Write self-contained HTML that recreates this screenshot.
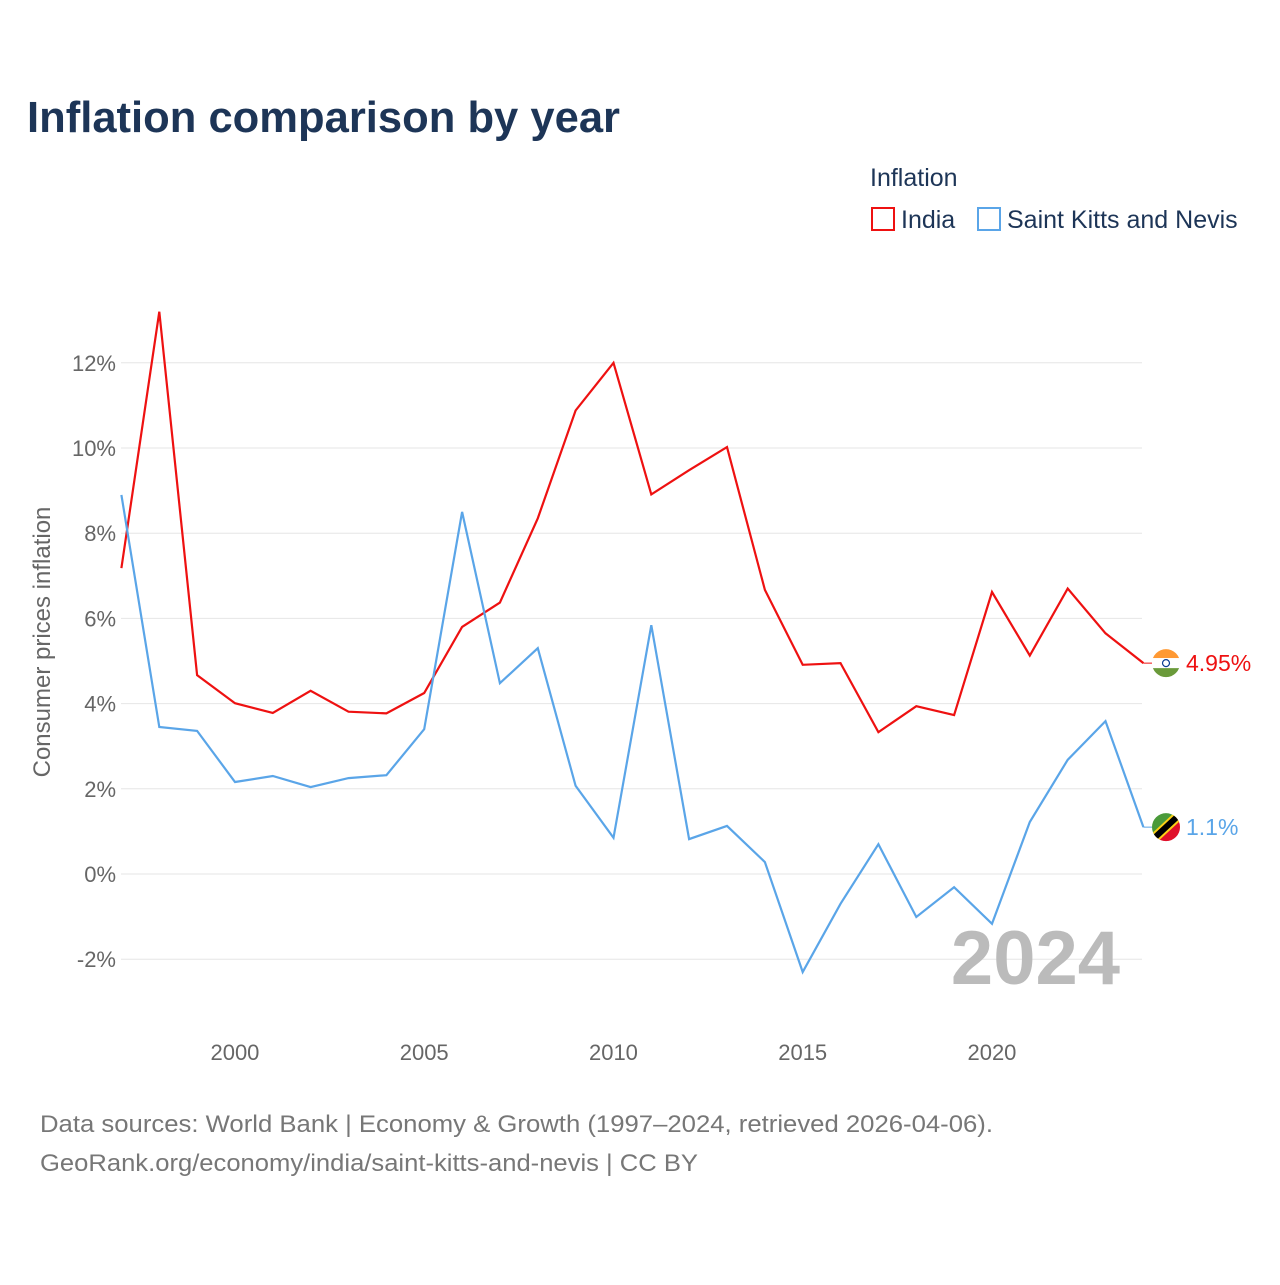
<!DOCTYPE html>
<html><head><meta charset="utf-8">
<style>
body{margin:0;background:#fff;width:1280px;height:1280px;overflow:hidden;font-family:"Liberation Sans",sans-serif;}
svg text{font-family:"Liberation Sans",sans-serif;}
</style></head>
<body>
<svg id="chart" width="1280" height="1280" xmlns="http://www.w3.org/2000/svg">
<defs>
<clipPath id="c1"><circle cx="1166" cy="0" r="14"/></clipPath>
</defs>
<text x="27" y="132" font-size="44" font-weight="bold" fill="#1d3557" textLength="593" lengthAdjust="spacingAndGlyphs">Inflation comparison by year</text>
<text x="870" y="186" font-size="25" fill="#1d3557">Inflation</text>
<g>
<rect x="872" y="208" width="22" height="22" fill="none" stroke="#ee1111" stroke-width="2"/>
<text x="901" y="228" font-size="25" fill="#1d3557">India</text></g>
<g>
<rect x="978" y="208" width="22" height="22" fill="none" stroke="#5aa5e8" stroke-width="2"/>
<text x="1007" y="228" font-size="25" fill="#1d3557">Saint Kitts and Nevis</text></g>
<g id="grid"></g>
<g id="yticks"></g>
<g id="xticks"></g>
<text transform="translate(50,642) rotate(-90)" text-anchor="middle" font-size="24" fill="#666">Consumer prices inflation</text>
<text x="1120" y="984" text-anchor="end" font-size="76" font-weight="bold" fill="#bbb">2024</text>
<g id="series"></g>
<text x="40" y="1132" font-size="24" fill="#777" textLength="953" lengthAdjust="spacingAndGlyphs">Data sources: World Bank | Economy &amp; Growth (1997–2024, retrieved 2026-04-06).</text>
<text x="40" y="1171" font-size="24" fill="#777" textLength="658" lengthAdjust="spacingAndGlyphs">GeoRank.org/economy/india/saint-kitts-and-nevis | CC BY</text>
</svg>
<script>
const years=[1997,1998,1999,2000,2001,2002,2003,2004,2005,2006,2007,2008,2009,2010,2011,2012,2013,2014,2015,2016,2017,2018,2019,2020,2021,2022,2023,2024];
const india=[7.18,13.2,4.67,4.01,3.78,4.30,3.81,3.77,4.25,5.80,6.37,8.35,10.88,12.0,8.91,9.48,10.02,6.67,4.91,4.95,3.33,3.94,3.73,6.62,5.13,6.70,5.65,4.95];
const skn=[8.9,3.45,3.36,2.16,2.30,2.04,2.25,2.32,3.40,8.5,4.48,5.30,2.07,0.85,5.84,0.82,1.13,0.28,-2.30,-0.70,0.70,-1.01,-0.31,-1.17,1.22,2.68,3.59,1.1];
const yTicks=[-2,0,2,4,6,8,10,12];
const xTicks=[2000,2005,2010,2015,2020];
const NS="http://www.w3.org/2000/svg";
const X=y=>121.4+(y-1997)*37.85;
const Y=v=>874-v*42.6;
function mk(t,a,p){const e=document.createElementNS(NS,t);for(const k in a)e.setAttribute(k,a[k]);p.appendChild(e);return e;}
const grid=document.getElementById('grid'),yt=document.getElementById('yticks'),xt=document.getElementById('xticks'),ser=document.getElementById('series');
yTicks.forEach(v=>{
 const l=mk('line',{x1:121,x2:1142,y1:Y(v),y2:Y(v),stroke:'#e6e6e6','stroke-width':1},grid);
 
 
 const t=mk('text',{x:116,y:Y(v)+8,'text-anchor':'end','font-size':22,fill:'#666'},yt);
 t.textContent=v+'%';
 
 
});
xTicks.forEach(v=>{
 const t=mk('text',{x:X(v),y:1060,'text-anchor':'middle','font-size':22,fill:'#666'},xt);
 t.textContent=v;
 
 
});
function line(vals,color,name,label,flag){
 const d=vals.map((v,i)=>(i?'L':'M')+X(years[i]).toFixed(1)+','+Y(v).toFixed(1)).join('');
 const p=mk('path',{d:d,fill:'none',stroke:color,'stroke-width':2.2},ser);
 
 
 const last=vals[vals.length-1],ly=Y(last);
 mk('line',{x1:X(2024),x2:1152,y1:ly,y2:ly,stroke:color,'stroke-width':1},ser);
 const g=mk('g',{transform:'translate(0,'+ly+')','clip-path':'url(#c1)'},ser);
 
 
 flag(g);
 const t=mk('text',{x:1186,y:ly+8,'font-size':23,fill:color},ser);
 t.textContent=label;
 
 
}
line(india,'#ee1111','india','4.95%',g=>{
 mk('rect',{x:1150,y:-15,width:32,height:10,fill:'#ff9933'},g);
 mk('rect',{x:1150,y:-5,width:32,height:10,fill:'#fff'},g);
 mk('rect',{x:1150,y:5,width:32,height:10,fill:'#6a9a3a'},g);
 mk('circle',{cx:1166,cy:0,r:3.5,fill:'none',stroke:'#0b3d91','stroke-width':1.2},g);
});
line(skn,'#5aa5e8','saint-kitts','1.1%',g=>{
 mk('polygon',{points:'1150,-15 1182,-15 1150,15',fill:'#4a9a3a'},g);
 mk('polygon',{points:'1182,-15 1182,15 1150,15',fill:'#e0102a'},g);
 mk('line',{x1:1152,y1:13,x2:1180,y2:-13,stroke:'#fcd116','stroke-width':10},g);
 mk('line',{x1:1152,y1:13,x2:1180,y2:-13,stroke:'#000','stroke-width':6},g);
});
</script>
</body></html>
